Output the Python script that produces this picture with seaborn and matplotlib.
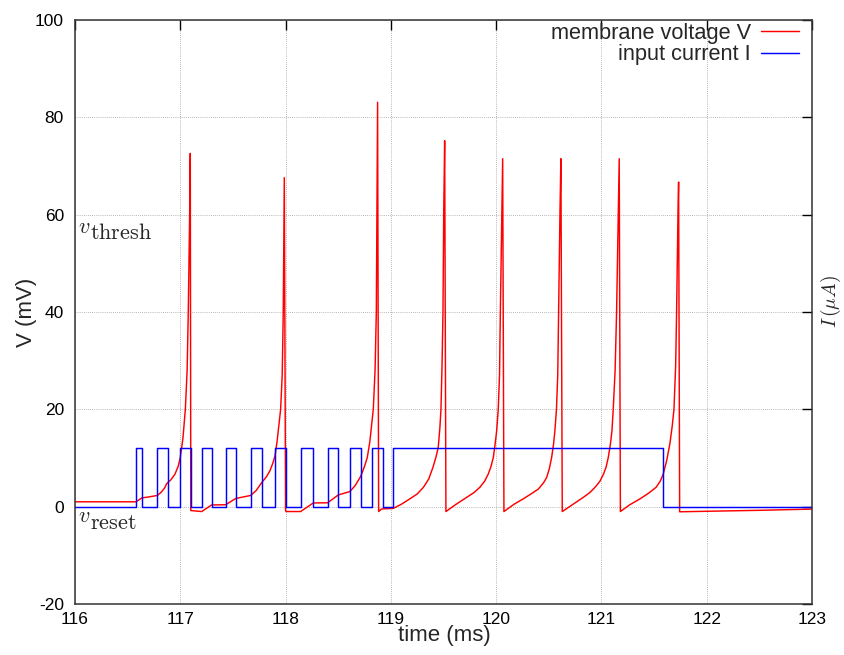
import matplotlib
matplotlib.use("Agg")
import matplotlib.pyplot as plt
import seaborn as sns
import pandas as pd

# ---------------- data ----------------
# membrane voltage V (mV)
v_time = [
    116.0, 116.58, 116.60, 116.635, 116.70, 116.782, 116.82, 116.85, 116.87, 116.91, 116.95,
    116.98, 117.0, 117.025, 117.048, 117.065, 117.076, 117.089, 117.095,
    117.10, 117.203, 117.298, 117.431, 117.529, 117.668, 117.72, 117.772, 117.82, 117.852,
    117.88, 117.90, 117.92, 117.94, 117.953, 117.968, 117.978, 117.985, 117.988,
    118.0, 118.004, 118.143, 118.263, 118.40, 118.50, 118.61, 118.66, 118.713, 118.75,
    118.776, 118.80, 118.818, 118.833, 118.85, 118.862, 118.868, 118.874,
    118.884, 118.91, 118.928, 119.023, 119.10, 119.18, 119.25, 119.31, 119.36, 119.40,
    119.43, 119.45, 119.465, 119.476, 119.487, 119.495, 119.502, 119.511,
    119.523, 119.62, 119.72, 119.79, 119.846, 119.89, 119.925, 119.95, 119.973, 119.99,
    120.005, 120.02, 120.032, 120.04, 120.054, 120.062,
    120.074, 120.17, 120.257, 120.33, 120.40, 120.45, 120.48, 120.505, 120.527, 120.545,
    120.558, 120.573, 120.585, 120.593, 120.606, 120.615,
    120.628, 120.73, 120.827, 120.89, 120.94, 120.985, 121.02, 121.045, 121.065, 121.085,
    121.10, 121.112, 121.13, 121.144, 121.16, 121.169,
    121.18, 121.27, 121.366, 121.45, 121.52, 121.56, 121.587, 121.62, 121.65, 121.672,
    121.689, 121.705, 121.714, 121.727, 121.733,
    121.743, 122.0, 122.5, 123.0]
v_mV = [
    1.0, 1.0, 1.3, 1.8, 2.0, 2.3, 3.0, 3.8, 4.7, 5.5, 6.7,
    8.3, 10.1, 14.0, 20.0, 28.0, 40.0, 60.0, 72.6,
    -0.8, -1.0, 0.35, 0.4, 1.7, 2.3, 3.3, 4.9, 6.2, 7.4,
    9.0, 10.5, 13.5, 17.5, 20.0, 27.0, 40.0, 60.0, 67.6,
    -0.8, -1.0, -1.0, 0.76, 0.8, 2.4, 3.1, 4.3, 6.2, 8.3,
    10.1, 13.3, 17.0, 20.0, 28.0, 40.0, 60.0, 83.1,
    -1.0, -0.5, -0.45, -0.35, 0.5, 1.6, 2.6, 4.0, 5.7, 8.1,
    10.3, 12.2, 16.0, 20.0, 30.0, 40.0, 60.0, 75.2,
    -1.0, 0.5, 1.9, 2.9, 4.0, 5.2, 6.7, 8.2, 10.1, 12.8,
    15.6, 20.0, 27.0, 40.0, 60.0, 71.5,
    -1.0, 0.5, 1.6, 2.6, 3.6, 4.9, 6.0, 7.8, 10.1, 12.8,
    15.6, 20.0, 27.0, 40.0, 60.0, 71.5,
    -1.0, 0.5, 1.9, 2.9, 4.0, 5.2, 6.7, 8.2, 10.1, 12.8,
    15.6, 20.0, 28.0, 40.0, 60.0, 71.5,
    -1.0, 0.4, 1.6, 2.8, 4.0, 5.3, 6.7, 9.5, 12.9, 16.5,
    20.0, 29.0, 40.0, 60.0, 66.7,
    -1.05, -0.95, -0.75, -0.5]

# input current I: pulse on/off times (ms) and level
pulse_on = [116.58, 116.782, 117.0, 117.203, 117.431, 117.668, 117.899, 118.143, 118.40, 118.61, 118.823, 119.023]
pulse_off = [116.635, 116.886, 117.099, 117.298, 117.529, 117.772, 118.004, 118.263, 118.50, 118.713, 118.928, 121.587]
i_high = 12.0
t_start, t_end = 116.0, 123.0

x_ticks = [116, 117, 118, 119, 120, 121, 122, 123]
y_ticks = [-20, 0, 20, 40, 60, 80, 100]

# ---------------- build tables ----------------
df_v = pd.DataFrame({"t": v_time, "V": v_mV})
it, iv = [t_start], [0.0]
for a, b in zip(pulse_on, pulse_off):
    it += [a, a, b, b]
    iv += [0.0, i_high, i_high, 0.0]
it.append(t_end)
iv.append(0.0)
df_i = pd.DataFrame({"t": it, "I": iv})

# ---------------- style ----------------
sns.set_theme(style="white")
plt.rcParams["font.family"] = ["Liberation Sans", "DejaVu Sans"]
plt.rcParams["mathtext.fontset"] = "cm"

W, H = 844, 655
fig = plt.figure(figsize=(W / 100, H / 100), dpi=100)
ax = fig.add_axes([75 / W, 1 - 604 / H, (812 - 75) / W, (604 - 20) / H])

sns.lineplot(data=df_v, x="t", y="V", ax=ax, color="#ff0000", lw=1.05,
             estimator=None, sort=False, label="membrane voltage V")
sns.lineplot(data=df_i, x="t", y="I", ax=ax, color="#0000ff", lw=1.05,
             estimator=None, sort=False, label="input current I")

ax.set_xlim(t_start, t_end)
ax.set_ylim(-20, 100)
ax.set_xticks(x_ticks)
ax.set_yticks(y_ticks)
ax.set_xticklabels([str(v) for v in x_ticks], fontsize=12.5)
ax.set_yticklabels([str(v) for v in y_ticks], fontsize=12.5)
ax.tick_params(direction="in", length=7, width=1, color="black",
               top=True, right=True, labelcolor="black")
ax.tick_params(axis="y", pad=8)
ax.tick_params(axis="x", pad=6)
ax.grid(True, color="#a0a0a0", linestyle=(0, (1, 1.5)), lw=0.6)
for s in ax.spines.values():
    s.set_color("#333333")
    s.set_linewidth(1.1)
    s.set_visible(True)

ax.set_xlabel("")
ax.set_ylabel("")
fig.text(444 / W, 1 - 636 / H, "time (ms)", fontsize=16, ha="center", va="center")
fig.text(27 / W, 1 - 312 / H, "V (mV)", fontsize=16, ha="center", va="center", rotation=90)

# annotations v_thresh / v_reset (italic v, roman subscript at same size)
ax.text(116.028, 56.3, r"$v$", fontsize=16, va="baseline", ha="left")
ax.text(116.142, 55.1, r"$\mathrm{thresh}$", fontsize=16, va="baseline", ha="left")
ax.text(116.028, -3.2, r"$v$", fontsize=16, va="baseline", ha="left")
ax.text(116.142, -4.5, r"$\mathrm{reset}$", fontsize=16, va="baseline", ha="left")
fig.text(831 / W, 1 - 302 / H, r"$I\,(\mu A)$", fontsize=14,
         rotation=90, va="center", ha="center")

leg = ax.legend(loc="upper right", frameon=False, markerfirst=False, fontsize=15.7,
                handlelength=1.75, handletextpad=0.45, labelspacing=0.02,
                borderpad=0, borderaxespad=0, bbox_to_anchor=((799 - 75) / 737, (604 - 23) / 584))

fig.savefig("out.png", dpi=100)
